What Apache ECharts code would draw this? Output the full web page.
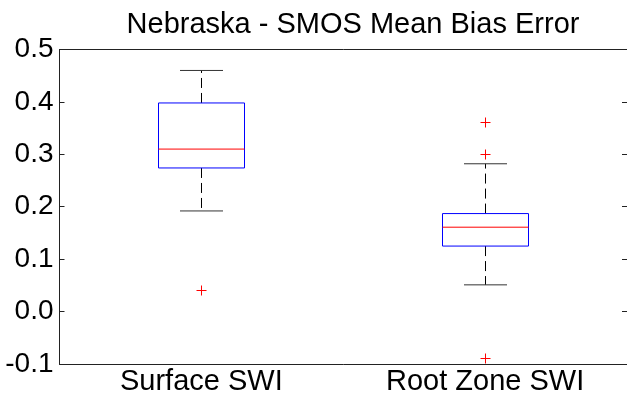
<!DOCTYPE html>
<html>
<head>
<meta charset="utf-8">
<script src="https://cdn.jsdelivr.net/npm/echarts@6/dist/echarts.min.js"></script>
<style>
  html, body { margin: 0; padding: 0; background: #fff; }
  #main { width: 627px; height: 401px; }
</style>
</head>
<body>
<div id="main"></div>
<script>
// box statistics
const categories = ['Surface SWI', 'Root Zone SWI'];
const whiskerLow = [0.192, 0.051];
const q1 = [0.274, 0.125];
const median = [0.310, 0.161];
const q3 = [0.398, 0.187];
const whiskerHigh = [0.460, 0.282];
// outliers as [categoryIndex, value]
const outliers = [[0, 0.041], [1, 0.361], [1, 0.300], [1, -0.089]];
const yTicks = ['-0.1', '0.0', '0.1', '0.2', '0.3', '0.4', '0.5'];

const font = 'Liberation Sans, Arial, sans-serif';
const axisColor = '#222';

let boxData = categories.map((c, i) => [i, whiskerLow[i], q1[i], median[i], q3[i], whiskerHigh[i]]);

function renderBox(params, api) {
  const i = api.value(0);
  const halfW = 43, capW = 21.5;
  const pLo = api.coord([i, api.value(1)]);
  const pQ1 = api.coord([i, api.value(2)]);
  const pMed = api.coord([i, api.value(3)]);
  const pQ3 = api.coord([i, api.value(4)]);
  const pHi = api.coord([i, api.value(5)]);
  const x = Math.round(pMed[0]) + 0.5;
  const dash = { stroke: '#000', lineWidth: 1, lineDash: [10, 5] };
  const solid = { stroke: '#333', lineWidth: 1 };
  return {
    type: 'group',
    children: [
      { type: 'line', shape: { x1: x, y1: pQ3[1], x2: x, y2: pHi[1] }, style: dash },
      { type: 'line', shape: { x1: x, y1: pQ1[1], x2: x, y2: pLo[1] }, style: dash },
      { type: 'line', shape: { x1: x - capW, y1: pHi[1], x2: x + capW, y2: pHi[1] }, style: solid },
      { type: 'line', shape: { x1: x - capW, y1: pLo[1], x2: x + capW, y2: pLo[1] }, style: solid },
      { type: 'rect', shape: { x: x - halfW, y: pQ3[1], width: halfW * 2, height: pQ1[1] - pQ3[1] },
        style: { fill: 'none', stroke: '#0000ff', lineWidth: 1 } },
      { type: 'line', shape: { x1: x - halfW, y1: pMed[1], x2: x + halfW, y2: pMed[1] },
        style: { stroke: '#ff0000', lineWidth: 1 } }
    ]
  };
}

function renderPlus(params, api) {
  const p = api.coord([api.value(0), api.value(1)]);
  const x = Math.round(p[0]) + 0.5, y = Math.round(p[1]) + 0.5, r = 5;
  const st = { stroke: '#ff0000', lineWidth: 1 };
  return {
    type: 'group',
    children: [
      { type: 'line', shape: { x1: x - r, y1: y, x2: x + r, y2: y }, style: st },
      { type: 'line', shape: { x1: x, y1: y - r, x2: x, y2: y + r }, style: st }
    ]
  };
}

let myChart = echarts.init(document.getElementById('main'));
myChart.setOption({
  animation: false,
  backgroundColor: '#fff',
  title: {
    text: 'Nebraska - SMOS Mean Bias Error',
    left: 348,
    top: 5,
    textAlign: 'center',
    textStyle: { fontFamily: font, fontSize: 29, fontWeight: 'normal', color: '#000' }
  },
  grid: { left: 59.5, right: 0, top: 49.5, bottom: 37 },
  xAxis: [
    {
      type: 'category',
      data: categories,
      axisLine: { onZero: false, lineStyle: { color: axisColor } },
      axisTick: { inside: true, alignWithLabel: true, length: 4, lineStyle: { color: axisColor } },
      axisLabel: { fontFamily: font, fontSize: 29, color: '#000', margin: 3 },
      splitLine: { show: false }
    },
    {
      type: 'category',
      position: 'top',
      data: categories,
      axisLine: { onZero: false, lineStyle: { color: axisColor } },
      axisTick: { inside: true, alignWithLabel: true, length: 4, lineStyle: { color: axisColor } },
      axisLabel: { show: false }
    }
  ],
  yAxis: [
    {
      type: 'value',
      min: -0.1,
      max: 0.5,
      interval: 0.1,
      axisLine: { show: true, lineStyle: { color: axisColor } },
      axisTick: { show: true, inside: true, length: 5, lineStyle: { color: axisColor } },
      axisLabel: {
        fontFamily: font, fontSize: 28, color: '#000', margin: 6,
        formatter: v => yTicks[Math.round((v + 0.1) * 10)]
      },
      splitLine: { show: false }
    },
    {
      type: 'value',
      position: 'right',
      min: -0.1,
      max: 0.5,
      interval: 0.1,
      axisLine: { show: true, lineStyle: { color: axisColor } },
      axisTick: { show: true, inside: true, length: 5, lineStyle: { color: axisColor } },
      axisLabel: { show: false },
      splitLine: { show: false }
    }
  ],
  series: [
    {
      type: 'custom',
      renderItem: renderBox,
      data: boxData,
      encode: { x: 0, y: [1, 2, 3, 4, 5] },
      clip: false
    },
    {
      type: 'custom',
      renderItem: renderPlus,
      data: outliers,
      encode: { x: 0, y: 1 },
      clip: false
    }
  ]
});
</script>
</body>
</html>
